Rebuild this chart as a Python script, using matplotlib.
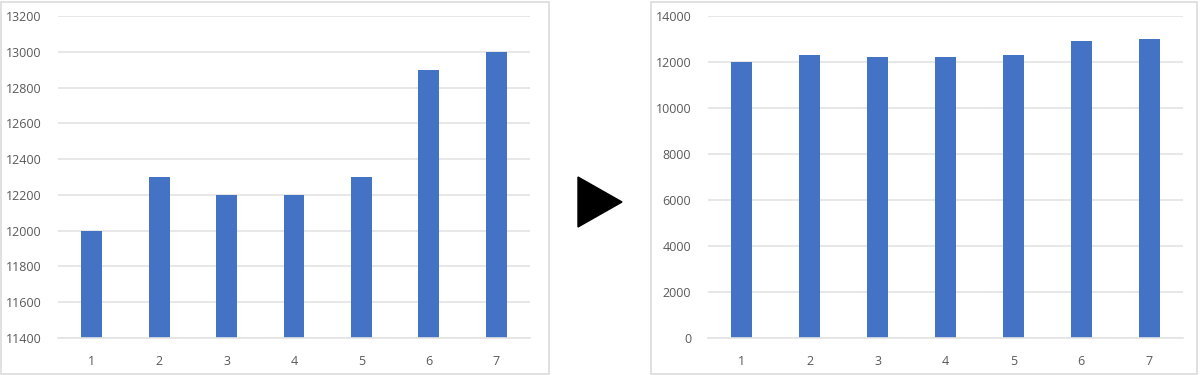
import matplotlib.pyplot as plt
from matplotlib.patches import Rectangle, Polygon

categories = ['1', '2', '3', '4', '5', '6', '7']
values = [12000, 12300, 12200, 12200, 12300, 12900, 13000]
left_ticks = [11400, 11600, 11800, 12000, 12200, 12400, 12600, 12800, 13000, 13200]
right_ticks = [0, 2000, 4000, 6000, 8000, 10000, 12000, 14000]

W, H = 1200, 375
bar_color = '#4472C4'
grid_color = '#e3e3e3'
frame_color = '#dcdcdc'
text_color = '#595959'

plt.rcParams['font.family'] = ['Open Sans', 'DejaVu Sans']

fig = plt.figure(figsize=(W / 100, H / 100), dpi=100)


def px_axes(x0, x1, ytop, ybot):
    return fig.add_axes([x0 / W, (H - ybot) / H, (x1 - x0) / W, (ybot - ytop) / H])


def draw_panel(ax, ticks):
    x = range(len(categories))
    ax.bar(x, values, width=0.31, color=bar_color, zorder=2)
    ax.set_xlim(-0.5, len(categories) - 0.5)
    ax.set_ylim(ticks[0], ticks[-1])
    ax.set_yticks(ticks)
    ax.set_yticklabels([str(t) for t in ticks])
    ax.set_xticks(list(x))
    ax.set_xticklabels(categories)
    ax.grid(axis='y', color=grid_color, linewidth=1.2, zorder=0)
    for s in ['top', 'right', 'left']:
        ax.spines[s].set_visible(False)
    ax.spines['bottom'].set_color(grid_color)
    ax.spines['bottom'].set_linewidth(1.2)
    ax.tick_params(axis='both', length=0, colors=text_color, labelsize=9)
    ax.tick_params(axis='y', pad=12)
    ax.tick_params(axis='x', pad=12)
    ax.set_facecolor('none')


# panel frames
fig.patches.append(Rectangle((1 / W, 1 / H), 548 / W, 372 / H, transform=fig.transFigure,
                             fill=False, edgecolor=frame_color, linewidth=1.2))
fig.patches.append(Rectangle((651 / W, 1 / H), 546 / W, 372 / H, transform=fig.transFigure,
                             fill=False, edgecolor=frame_color, linewidth=1.2))

ax1 = px_axes(58, 530, 16, 338)
draw_panel(ax1, left_ticks)

ax2 = px_axes(708, 1183, 16, 338)
draw_panel(ax2, right_ticks)

# arrow triangle
tri = [(578 / W, (H - 177) / H), (578 / W, (H - 227) / H), (622 / W, (H - 202) / H)]
fig.patches.append(Polygon(tri, closed=True, transform=fig.transFigure,
                           facecolor='black', edgecolor='black'))

fig.savefig('out.png', dpi=100)
